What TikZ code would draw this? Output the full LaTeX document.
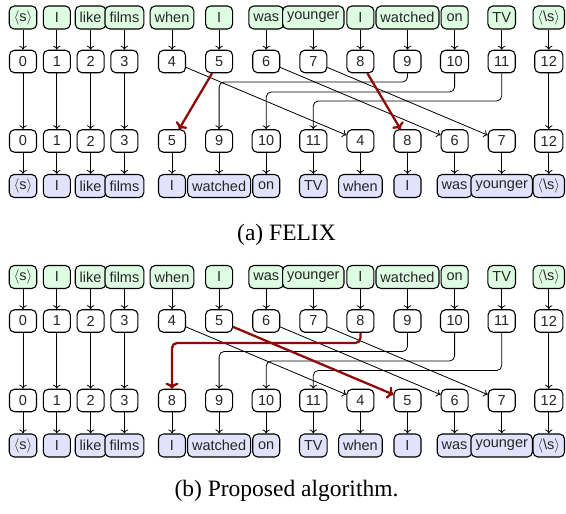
\documentclass[tikz,border=0pt]{standalone}
\usepackage{fontspec}
\setmainfont{Liberation Serif}
\setsansfont{Liberation Sans}
\usetikzlibrary{arrows.meta}
\definecolor{wgreen}{RGB}{222,252,226}
\definecolor{wblue}{RGB}{226,226,252}
\definecolor{dred}{RGB}{145,10,10}
\tikzset{
  boxbase/.style={draw, rounded corners=5pt, line width=1.1pt, inner ysep=3pt,
    font=\sffamily\fontsize{14.5}{16}\selectfont, text=black!85},
  idx/.style={boxbase, fill=white, minimum width=27pt, minimum height=22.5pt, inner xsep=6pt},
  wtop/.style={boxbase, fill=wgreen, minimum width=27pt, minimum height=23pt, inner xsep=4.5pt},
  wbot/.style={boxbase, fill=wblue, minimum width=27pt, minimum height=23pt, inner xsep=4.5pt},
  arr/.style={-{To[length=4pt,width=7.5pt]}, line width=0.8pt, black},
  redarr/.style={-{To[length=6pt,width=13pt]}, line width=2.3pt, dred},
  capt/.style={font=\fontsize{23.5}{26}\selectfont, inner sep=0pt}
}
\begin{document}
\begin{tikzpicture}[x=1pt,y=-1pt]
\useasboundingbox (0,0) rectangle (566,514);
\def\colx{{23,56.8,90.6,124.4,172,219.1,266.2,313.3,360.4,407.5,454.6,501.7,548.8}}
\foreach \p/\oy/\order in {a/0/{0,1,2,3,5,9,10,11,4,8,6,7,12}, b/259.5/{0,1,2,3,8,9,10,11,4,5,6,7,12}}{
  % top words
  \foreach \w [count=\i from 0] in {$\langle$s$\rangle$,I,like,films,when,I,was,younger,I,watched,on,TV,$\langle$\textbackslash s$\rangle$}{
    \pgfmathsetmacro\x{\colx[\i]}
    \node[wtop] (\p-w\i) at (\x,17.5+\oy) {\w};
  }
  % index row 1
  \foreach \i in {0,...,12}{
    \pgfmathsetmacro\x{\colx[\i]}
    \node[idx] (\p-r\i) at (\x,61.5+\oy) {\i};
    \draw[arr] (\p-w\i) -- (\p-r\i);
  }
  % index row 2
  \foreach \k [count=\i from 0] in \order {
    \pgfmathsetmacro\x{\colx[\i]}
    \node[idx] (\p-s\k) at (\x,141+\oy) {\k};
  }
  % bottom words
  \foreach \w [count=\i from 0] in {$\langle$s$\rangle$,I,like,films,I,watched,on,TV,when,I,was,younger,$\langle$\textbackslash s$\rangle$}{
    \pgfmathsetmacro\x{\colx[\i]}
    \node[wbot] (\p-v\i) at (\x,186+\oy) {\w};
  }
  \foreach \k [count=\i from 0] in \order {
    \draw[arr] (\p-s\k) -- (\p-v\i);
  }
  % straight connectors
  \foreach \k in {0,1,2,3,12,4,6,7}{
    \draw[arr] (\p-r\k) -- (\p-s\k);
  }
}
% panel (a) specific
\draw[arr, rounded corners=5pt] (a-r9.south) -- (a-r9.south |- 0,82) -- (a-s9.north |- 0,82) -- (a-s9.north);
\draw[arr, rounded corners=5pt] (a-r10.south) -- (a-r10.south |- 0,92) -- (a-s10.north |- 0,92) -- (a-s10.north);
\draw[arr, rounded corners=5pt] (a-r11.south) -- (a-r11.south |- 0,101) -- (a-s11.north |- 0,101) -- (a-s11.north);
\draw[redarr] (a-r5) -- (a-s5);
\draw[redarr] (a-r8) -- (a-s8);
% panel (b) specific
\draw[arr, rounded corners=5pt] (b-r9.south) -- (b-r9.south |- 0,351.5) -- (b-s9.north |- 0,351.5) -- (b-s9.north);
\draw[arr, rounded corners=5pt] (b-r10.south) -- (b-r10.south |- 0,361) -- (b-s10.north |- 0,361) -- (b-s10.north);
\draw[arr, rounded corners=5pt] (b-r11.south) -- (b-r11.south |- 0,370.5) -- (b-s11.north |- 0,370.5) -- (b-s11.north);
\draw[redarr, rounded corners=5pt] (b-r8.south) -- (b-r8.south |- 0,343) -- (b-s8.north |- 0,343) -- (b-s8.north);
\draw[redarr] (b-r5) -- (b-s5);
% captions
\node[capt] (capa) at (286.5,235) {(a) FELIX};
\node[capt] (capb) at (286.5,491) {(b) Proposed algorithm.};
\end{tikzpicture}
\end{document}
